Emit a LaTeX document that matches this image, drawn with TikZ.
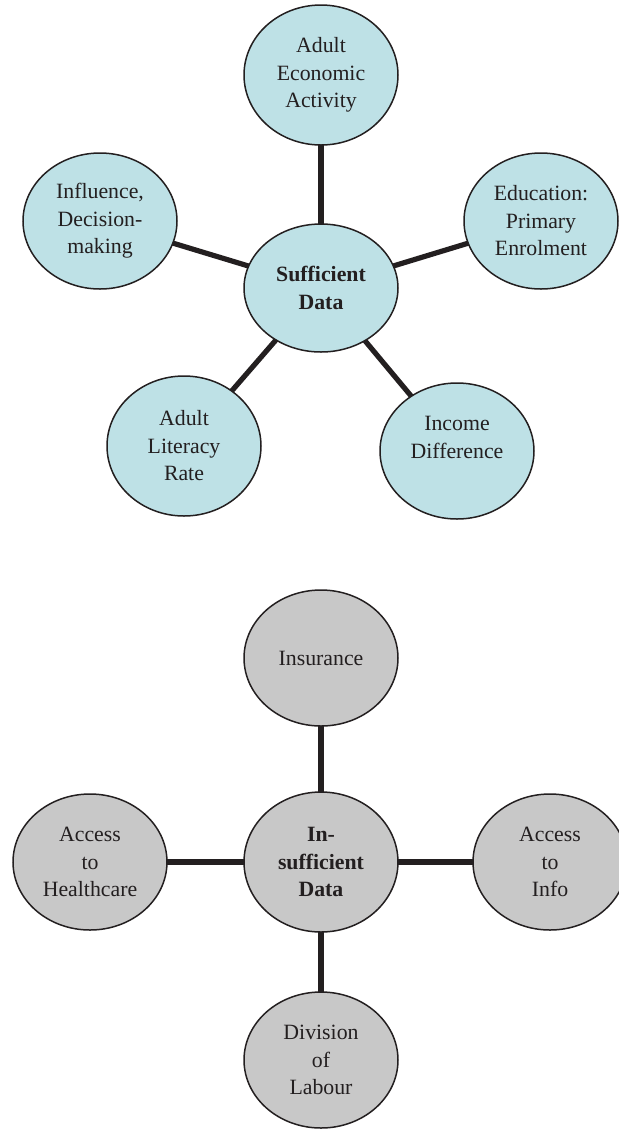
\documentclass[tikz,border=0pt]{standalone}
\usepackage{fontspec}
\setmainfont{Liberation Serif}
\usetikzlibrary{shapes.geometric}
\definecolor{ink}{HTML}{231F20}
\definecolor{paleblue}{HTML}{BEE1E6}
\definecolor{palegray}{HTML}{C8C8C8}
\tikzset{
  bubble/.style={ellipse, draw=ink, line width=0.75pt, minimum width=77pt,
    minimum height=68pt, inner sep=0pt, outer sep=0pt, align=center,
    text=ink, font=\fontsize{10.9pt}{13.75pt}\selectfont},
  bluebubble/.style={bubble, fill=paleblue},
  graybubble/.style={bubble, fill=palegray},
  spoke/.style={draw=ink, line width=2.6pt}
}
\begin{document}
\begin{tikzpicture}[x=0.5pt, y=-0.5pt]
\useasboundingbox (0,0) rectangle (619,1131);

% upper cluster: indicators with sufficient data
\node[bluebubble, minimum height=64pt] (suff) at (321,288) {\textbf{Sufficient}\\\textbf{Data}};
\node[bluebubble, minimum height=70pt] (econ) at (321,75) {Adult\\Economic\\Activity};
\node[bluebubble] (infl) at (100,221) {Influence,\\Decision-\\making};
\node[bluebubble] (edu) at (541,221) {Education:\\Primary\\Enrolment};
\node[bluebubble, minimum height=70pt] (lit) at (184,446) {Adult\\Literacy\\Rate};
\node[bluebubble] (inc) at (457,451) {Income\\Difference\\\mbox{}};

\draw[spoke] (suff) -- (econ);
\draw[spoke] (suff) -- (infl);
\draw[spoke] (suff) -- (edu);
\draw[spoke] (suff) -- (lit);
\draw[spoke] (suff) -- (inc);

% lower cluster: indicators with insufficient data
\node[graybubble, minimum height=70pt] (insuf) at (321,862) {\textbf{In-}\\\textbf{sufficient}\\\textbf{Data}};
\node[graybubble] (ins) at (321,658) {Insurance};
\node[graybubble] (health) at (90,862) {Access\\to\\Healthcare};
\node[graybubble] (info) at (550,862) {Access\\to\\Info};
\node[graybubble] (div) at (321,1060) {Division\\of\\Labour};

\draw[spoke] (insuf) -- (ins);
\draw[spoke] (insuf.west) -- (health.east);
\draw[spoke] (insuf.east) -- (info.west);
\draw[spoke] (insuf) -- (div);
\end{tikzpicture}
\end{document}
